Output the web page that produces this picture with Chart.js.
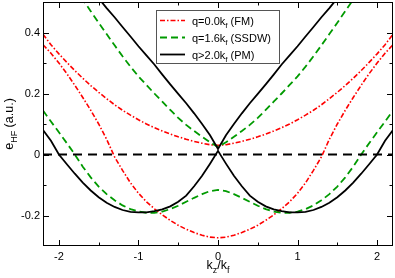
<!DOCTYPE html>
<html>
<head>
<meta charset="utf-8">
<script src="https://cdn.jsdelivr.net/npm/chart.js@4.4.1/dist/chart.umd.min.js"></script>
<style>
  html, body { margin: 0; padding: 0; background: #fff; }
</style>
</head>
<body>
<canvas id="hfchart" width="395" height="278"></canvas>
<script>
// k_z/k_f values for the right half (k >= 0), curves are mirrored about k = 0
const kHalf = [0, 0.1, 0.2, 0.3, 0.4, 0.5, 0.6, 0.7, 0.8, 0.9, 1.0, 1.1,
               1.2, 1.3, 1.4, 1.5, 1.6, 1.7, 1.8, 1.9, 2.0, 2.1, 2.2];

// q=0.0kf (FM) - red dash dot
const fmUpper = [0.030, 0.032, 0.037, 0.043, 0.050, 0.058, 0.067, 0.077, 0.088, 0.100, 0.114, 0.129,
                 0.145, 0.163, 0.183, 0.204, 0.226, 0.250, 0.275, 0.302, 0.330, 0.360, 0.394];
const fmLower = [-0.273, -0.271, -0.265, -0.256, -0.245, -0.232, -0.216, -0.198, -0.178, -0.155, -0.127, -0.093,
                 -0.052, -0.008, 0.050, 0.100, 0.145, 0.187, 0.227, 0.265, 0.300, 0.332, 0.360];

// q=1.6kf (SSDW) - green dashed
const ssdwUpper = [0.025, 0.040, 0.058, 0.077, 0.097, 0.120, 0.146, 0.173, 0.200, 0.228, 0.256, 0.288,
                   0.322, 0.358, 0.395, 0.432, 0.470, 0.508, 0.545, null, null, null, null];
const ssdwLower = [-0.116, -0.120, -0.130, -0.142, -0.155, -0.168, -0.179, -0.187, -0.191, -0.191, -0.187, -0.179,
                   -0.167, -0.150, -0.130, -0.105, -0.075, -0.040, 0.000, 0.037, 0.073, 0.108, 0.144];

// q>2.0kf (PM) - black solid
const pmUpper = [0.018, 0.063, 0.100, 0.135, 0.168, 0.199, 0.230, 0.262, 0.295, 0.325, 0.355, 0.387,
                 0.418, 0.450, 0.480, 0.512, 0.545, null, null, null, null, null, null];
const pmLower = [0.012, -0.030, -0.070, -0.104, -0.135, -0.155, -0.170, -0.180, -0.186, -0.190, -0.190, -0.188,
                 -0.182, -0.172, -0.158, -0.140, -0.118, -0.092, -0.063, -0.032, 0.000, 0.045, 0.080];

const zeroK = [-2.2, 2.2];
const zeroE = [0, 0];

const xTicks = [-2, -1, 0, 1, 2];
const xMinor = [-1.5, -0.5, 0.5, 1.5];
const yTicks = [-0.2, 0, 0.2, 0.4];
const yMinor = [-0.1, 0.1, 0.3];

const legendRows = [
    { main: 'q=0.0k', sub: 'f', tail: ' (FM)', color: '#ff0000', dash: [5, 2, 1.5, 2], width: 1.6 },
    { main: 'q=1.6k', sub: 'f', tail: ' (SSDW)', color: '#009a00', dash: [7, 4], width: 1.8 },
    { main: 'q>2.0k', sub: 'f', tail: ' (PM)', color: '#000000', dash: [], width: 1.8 }
];

const FONT = "'Liberation Sans', Arial, Helvetica, sans-serif";

// mirror the half curve to get the full k range
function mirrored(vals){
    const pts = [];
    for (let i = kHalf.length - 1; i > 0; i--) {
        if (vals[i] !== null) pts.push({ x: -kHalf[i], y: vals[i] });
    }
    for (let i = 0; i < kHalf.length; i++) {
        if (vals[i] !== null) pts.push({ x: kHalf[i], y: vals[i] });
    }
    return pts;
}

function curve(vals, row){
    return {
        data: mirrored(vals),
        showLine: true,
        pointRadius: 0,
        borderColor: row.color,
        borderWidth: row.width,
        borderDash: row.dash,
        tension: 0,
        fill: false
    };
}

// draw text with a subscript part
function richText(ctx, parts, x, y, size, align){
    const subSize = Math.round(size * 0.72);
    let total = 0;
    parts.forEach(p => {
        ctx.font = (p.sub ? subSize : size) + 'px ' + FONT;
        p.w = ctx.measureText(p.t).width;
        total += p.w;
    });
    let cx = align === 'center' ? x - total / 2 : x;
    ctx.textBaseline = 'alphabetic';
    ctx.textAlign = 'left';
    parts.forEach(p => {
        ctx.font = (p.sub ? subSize : size) + 'px ' + FONT;
        ctx.fillText(p.t, cx, p.sub ? y + size * 0.28 : y);
        cx += p.w;
    });
}

const framePlugin = {
    id: 'frame',
    afterDraw(chart){
        const ctx = chart.ctx;
        const a = chart.chartArea;
        const xs = chart.scales.x, ys = chart.scales.y;
        ctx.save();
        ctx.strokeStyle = '#000';
        ctx.lineWidth = 1;
        ctx.setLineDash([]);
        ctx.strokeRect(a.left + 0.5, a.top + 0.5, a.right - a.left - 1, a.bottom - a.top - 1);

        // inward ticks on all four sides
        ctx.beginPath();
        const tickX = (list, len) => list.forEach(v => {
            const px = Math.round(xs.getPixelForValue(v)) + 0.5;
            ctx.moveTo(px, a.bottom); ctx.lineTo(px, a.bottom - len);
            ctx.moveTo(px, a.top); ctx.lineTo(px, a.top + len);
        });
        const tickY = (list, len) => list.forEach(v => {
            const py = Math.round(ys.getPixelForValue(v)) + 0.5;
            ctx.moveTo(a.left, py); ctx.lineTo(a.left + len, py);
            ctx.moveTo(a.right, py); ctx.lineTo(a.right - len, py);
        });
        tickX(xTicks, 6); tickX(xMinor, 3.5);
        tickY(yTicks, 6); tickY(yMinor, 3.5);
        ctx.stroke();

        // axis titles
        ctx.fillStyle = '#000';
        richText(ctx, [{t:'k'}, {t:'z', sub:true}, {t:'/k'}, {t:'f', sub:true}],
                 (a.left + a.right) / 2, 269, 12.5, 'center');
        ctx.save();
        ctx.translate(13, (a.top + a.bottom) / 2);
        ctx.rotate(-Math.PI / 2);
        richText(ctx, [{t:'e'}, {t:'HF', sub:true}, {t:' (a.u.)'}], 0, 0, 12.5, 'center');
        ctx.restore();

        // legend box
        const bx = 156.5, by = 10.5, bw = 123, bh = 53;
        ctx.fillStyle = '#fff';
        ctx.fillRect(bx, by, bw, bh);
        ctx.strokeStyle = '#555';
        ctx.lineWidth = 1;
        ctx.strokeRect(bx, by, bw, bh);
        legendRows.forEach((r, i) => {
            const ry = 20.5 + i * 17;
            ctx.beginPath();
            ctx.strokeStyle = r.color;
            ctx.lineWidth = r.width;
            ctx.setLineDash(r.dash);
            ctx.moveTo(160, ry); ctx.lineTo(185, ry);
            ctx.stroke();
            ctx.setLineDash([]);
            ctx.fillStyle = '#000';
            richText(ctx, [{t:r.main}, {t:r.sub, sub:true}, {t:r.tail}], 192, ry + 4, 11, 'left');
        });
        ctx.restore();
    }
};

const canvas = document.getElementById('hfchart');

new Chart(canvas, {
    type: 'scatter',
    data: {
        datasets: [
            curve(pmUpper, legendRows[2]),
            curve(pmLower, legendRows[2]),
            {
                data: zeroK.map((k, i) => ({ x: k, y: zeroE[i] })),
                showLine: true, pointRadius: 0,
                borderColor: '#000', borderWidth: 2, borderDash: [9, 6]
            },
            curve(ssdwUpper, legendRows[1]),
            curve(ssdwLower, legendRows[1]),
            curve(fmUpper, legendRows[0]),
            curve(fmLower, legendRows[0])
        ]
    },
    options: {
        responsive: false,
        animation: false,
        layout: { padding: { top: 2, right: 2, left: 0, bottom: 0 } },
        plugins: {
            legend: { display: false },
            tooltip: { enabled: false }
        },
        scales: {
            x: {
                type: 'linear',
                min: -2.2,
                max: 2.2,
                grid: { display: false, drawTicks: false },
                border: { display: false },
                afterBuildTicks: s => { s.ticks = xTicks.map(v => ({ value: v })); },
                afterFit: s => { s.height = 32; s.paddingLeft = 0; s.paddingRight = 0; },
                ticks: {
                    padding: 4,
                    color: '#000',
                    font: { family: FONT, size: 11 },
                    callback: v => String(v)
                }
            },
            y: {
                type: 'linear',
                min: -0.3,
                max: 0.5,
                grid: { display: false, drawTicks: false },
                border: { display: false },
                afterBuildTicks: s => { s.ticks = yTicks.map(v => ({ value: v })); },
                afterFit: s => { s.width = 43; s.paddingTop = 0; s.paddingBottom = 0; },
                ticks: {
                    padding: 3,
                    color: '#000',
                    font: { family: FONT, size: 11 },
                    callback: v => (v === 0 ? '0' : v.toFixed(1))
                }
            }
        }
    },
    plugins: [framePlugin]
});
</script>
</body>
</html>
